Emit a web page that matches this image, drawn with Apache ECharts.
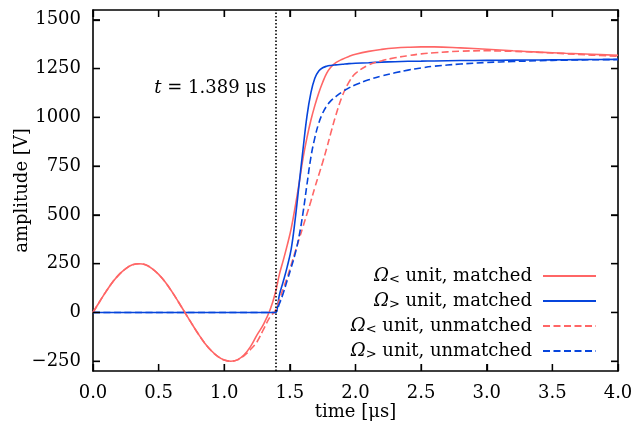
<!DOCTYPE html>
<html>
<head>
<meta charset="utf-8">
<script src="https://cdn.jsdelivr.net/npm/echarts@6/dist/echarts.min.js"></script>
<style>html,body{margin:0;padding:0;background:#fff}#c{width:633px;height:428px}</style>
</head>
<body>
<div id="c"></div>
<script>
// time grid [μs]
const time = [0,0.05,0.1,0.15,0.2,0.25,0.3,0.35,0.4,0.45,0.5,0.55,0.6,0.65,0.7,0.75,0.8,0.85,0.9,0.95,1.0,1.05,1.1,1.15,1.2,1.25,1.3,1.35,
  1.389,1.42,1.45,1.48,1.51,1.54,1.57,1.6,1.63,1.66,1.69,1.72,1.75,1.78,1.81,1.85,1.9,1.95,2.0,2.1,2.2,2.3,2.4,2.5,2.6,2.8,3.0,3.2,3.4,3.6,3.8,4.0];

// amplitude [V]
const lessMatched = [0,55,108,156,195,225,244,250,244,225,195,156,108,55,0,-55,-108,-156,-195,-225,-244,-250,-243,-218,-175,-115,-60,15,
  100,195,268,345,430,540,660,790,895,985,1060,1125,1180,1225,1255,1280,1298,1312,1323,1338,1348,1355,1359,1361,1361,1356,1349,1341,1334,1328,1323,1318];

const greaterMatched = [0,0,0,0,0,0,0,0,0,0,0,0,0,0,0,0,0,0,0,0,0,0,0,0,0,0,0,0,
  0,90,160,235,325,475,655,835,1005,1125,1200,1237,1254,1262,1266,1269,1272,1275,1277,1280,1283,1285,1287,1288,1289,1291,1292,1293,1294,1295,1296,1297];

const lessUnmatched = [0,55,108,156,195,225,244,250,244,225,195,156,108,55,0,-55,-108,-156,-195,-225,-244,-250,-243,-222,-190,-150,-85,-22,
  10,65,125,180,245,310,375,440,505,570,640,705,770,840,915,1010,1110,1180,1225,1268,1290,1305,1316,1325,1331,1339,1341,1338,1333,1326,1319,1313];

const greaterUnmatched = [0,0,0,0,0,0,0,0,0,0,0,0,0,0,0,0,0,0,0,0,0,0,0,0,0,0,0,0,
  0,45,100,165,230,300,390,510,655,795,895,970,1022,1058,1083,1106,1131,1151,1167,1192,1212,1228,1242,1253,1262,1273,1281,1286,1290,1293,1295,1296];

const seriesNames = ['Ω< unit, matched','Ω> unit, matched','Ω< unit, unmatched','Ω> unit, unmatched'];
const xTicks = [0,0.5,1,1.5,2,2.5,3,3.5,4];
const yTicks = [-250,0,250,500,750,1000,1250,1500];
const X_MIN = 0, X_MAX = 4, Y_MIN = -300, Y_MAX = 1550;
const markerTime = 1.389;
const markerLabelLevel = 1150;

const W = 633, H = 428;
const GRID = {left: 93, right: 15, top: 10, bottom: 57};
const FONT = 'DejaVu Serif';
const RED = '#ff6666';
const BLUE = '#0645dc';
const TICK_LEN = 7;

function pairs(v){ return time.map((t,i)=>[t,v[i]]); }
const fmtY = v => (v < 0 ? '\u2212' + Math.abs(v) : String(v));
const baseText = () => ({fontFamily: FONT, fontSize: 18, color: '#000'});
const frameLine = () => ({show: true, onZero: false, lineStyle: {color: '#000', width: 1.6}});
const axisTicks = () => ({show: true, inside: true, length: TICK_LEN, lineStyle: {color: '#000', width: 1.3}});

function lineSeries(name, values, color, dashed){
  return {
    name, type: 'line', data: pairs(values), showSymbol: false,
    smooth: 0.4,
    lineStyle: {color, width: 1.6, type: dashed ? [7, 3.5] : 'solid'},
    itemStyle: {color}
  };
}

const series = [
  lineSeries(seriesNames[0], lessMatched, RED, false),
  lineSeries(seriesNames[1], greaterMatched, BLUE, false),
  lineSeries(seriesNames[2], lessUnmatched, RED, true),
  lineSeries(seriesNames[3], greaterUnmatched, BLUE, true)
];
series[0].markLine = {
  silent: true, symbol: 'none', animation: false,
  lineStyle: {color: '#000', width: 1.6, type: [1.6, 1.9]},
  label: {show: false},
  data: [{xAxis: markerTime}]
};
series[0].markPoint = {
  silent: true, symbol: 'circle', symbolSize: 0, animation: false,
  itemStyle: {color: 'transparent'},
  label: {
    show: true, position: 'left', distance: 9,
    formatter: '{i|t} = ' + markerTime + ' μs',
    ...baseText(),
    rich: {i: {fontFamily: FONT, fontSize: 18, fontStyle: 'italic', color: '#000'}}
  },
  data: [{coord: [markerTime, markerLabelLevel]}]
};

// inward tick marks on all four frame sides: each one a tiny two-point line series on the axes' scales
const yPerPx = (Y_MAX - Y_MIN) / (H - GRID.top - GRID.bottom);
const xPerPx = (X_MAX - X_MIN) / (W - GRID.left - GRID.right);
const dy = TICK_LEN * yPerPx, dx = TICK_LEN * xPerPx;
const tickSegments = [].concat(
  ...xTicks.map(v => [[[v, Y_MIN], [v, Y_MIN + dy]], [[v, Y_MAX], [v, Y_MAX - dy]]]),
  ...yTicks.map(v => [[[X_MIN, v], [X_MIN + dx, v]], [[X_MAX, v], [X_MAX - dx, v]]])
);
tickSegments.forEach(seg => series.push({
  type: 'line', data: seg, showSymbol: false, silent: true, clip: false, z: 5,
  lineStyle: {color: '#000', width: 1.3}, itemStyle: {color: '#000'}, tooltip: {show: false}
}));

const chart = echarts.init(document.getElementById('c'), null, {renderer: 'canvas'});
chart.setOption({
  animation: false,
  grid: {...GRID, outerBoundsMode: 'none', containLabel: false},
  xAxis: [{
    type: 'value', position: 'bottom', min: X_MIN, max: X_MAX, interval: 0.5,
    axisLine: frameLine(), axisTick: axisTicks(), splitLine: {show: false},
    axisLabel: {...baseText(), margin: 13, formatter: v => v.toFixed(1)},
    name: 'time [μs]', nameLocation: 'middle', nameGap: 32, nameMoveOverlap: false, nameTextStyle: baseText()
  }, {
    type: 'value', position: 'top', min: X_MIN, max: X_MAX, interval: 0.5,
    axisLine: frameLine(), axisTick: axisTicks(), splitLine: {show: false},
    axisLabel: {show: true, color: 'rgba(0,0,0,0)', fontSize: 1}
  }],
  yAxis: [{
    type: 'value', position: 'left', min: Y_MIN, max: Y_MAX,
    axisLine: frameLine(), splitLine: {show: false},
    axisTick: {...axisTicks(), customValues: yTicks},
    axisLabel: {...baseText(), margin: 12, customValues: yTicks, formatter: fmtY},
    name: 'amplitude [V]', nameLocation: 'middle', nameGap: 62, nameMoveOverlap: false, nameTextStyle: baseText()
  }, {
    type: 'value', position: 'right', min: Y_MIN, max: Y_MAX,
    axisLine: frameLine(), splitLine: {show: false},
    axisTick: {...axisTicks(), customValues: yTicks},
    axisLabel: {show: true, customValues: yTicks, color: 'rgba(0,0,0,0)', fontSize: 1}
  }],
  legend: {
    orient: 'vertical', right: 36, top: 266, align: 'right', padding: 0,
    itemWidth: 53, itemHeight: 14, itemGap: 5,
    itemStyle: {opacity: 0},
    selectedMode: false,
    data: seriesNames,
    formatter: name => name.replace(/^Ω(.)/, '{o|Ω}{s|$1}'),
    textStyle: {
      ...baseText(), lineHeight: 20, padding: [0, 6, 0, 0],
      rich: {
        o: {fontFamily: FONT, fontSize: 18, fontStyle: 'italic', color: '#000', lineHeight: 20},
        s: {fontFamily: FONT, fontSize: 13, color: '#000', lineHeight: 8, verticalAlign: 'bottom'}
      }
    }
  },
  series
});
</script>
</body>
</html>
